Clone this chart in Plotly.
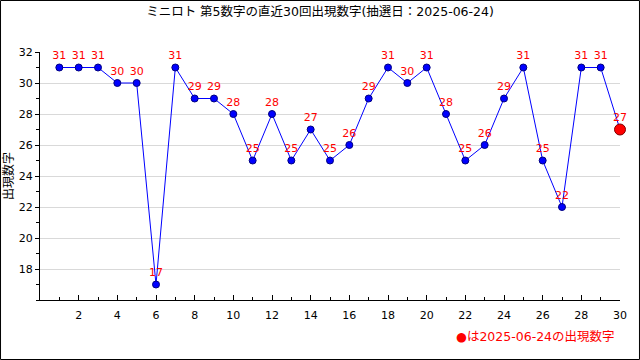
import plotly.graph_objects as go

draws = list(range(1, 31))
values = [31, 31, 31, 30, 30, 17, 31, 29, 29, 28, 25, 28, 25, 27, 25, 26, 29, 31, 30, 31,
          28, 25, 26, 29, 31, 25, 22, 31, 31, 27]
title_text = "ミニロト 第5数字の直近30回出現数字(抽選日：2025-06-24)"
ytitle = "出現数字"
note = "●は2025-06-24の出現数字"
x_ticks = list(range(2, 31, 2))
y_ticks = list(range(18, 33, 2))

font_family = "DejaVu Sans, Noto Sans CJK JP"

fig = go.Figure()
fig.add_trace(go.Scatter(
    x=draws, y=values, mode="lines+markers+text",
    line=dict(color="#0000ff", width=1),
    marker=dict(color="#0000ff", size=7, line=dict(color="#000080", width=1)),
    text=[str(v) for v in values], textposition="top center",
    textfont=dict(color="#ff0000", size=11, family=font_family),
    cliponaxis=False, showlegend=False, hoverinfo="skip"))
fig.add_trace(go.Scatter(
    x=draws[-1:], y=values[-1:], mode="markers",
    marker=dict(color="#ff0000", size=11, line=dict(color="#800000", width=1)),
    cliponaxis=False, showlegend=False, hoverinfo="skip"))

fig.update_layout(
    width=640, height=360,
    margin=dict(l=40, r=20, t=52, b=60, autoexpand=False),
    paper_bgcolor="white", plot_bgcolor="white",
    font=dict(family=font_family, size=11, color="#000"),
    title=dict(text=title_text, x=0.5, xanchor="center", y=0.98, yanchor="top",
               font=dict(size=12.5, family=font_family, color="#000")),
)
fig.update_xaxes(range=[0, 30], tickvals=x_ticks, ticks="inside", ticklen=5,
                 tickcolor="#000", showline=True, linecolor="#000", linewidth=1,
                 showgrid=False, zeroline=False, ticklabelstandoff=5, automargin=False,
                 minor=dict(dtick=1, tick0=0, ticks="inside", ticklen=3, tickcolor="#000", showgrid=False))
fig.update_yaxes(range=[16, 32], tickvals=y_ticks, ticks="outside", ticklen=4,
                 tickcolor="#000", showline=True, linecolor="#000", linewidth=1,
                 showgrid=True, gridcolor="#d9d9d9", zeroline=False, automargin=False,
                 minor=dict(dtick=1, tick0=0, ticks="outside", ticklen=3, tickcolor="#000", showgrid=False),
                 title=dict(text=ytitle, standoff=2, font=dict(size=12)))
fig.add_annotation(xref="paper", yref="paper", x=0.995, y=-0.148, xanchor="right", yanchor="middle",
                   text=note, showarrow=False, font=dict(color="#ff0000", size=12.5, family=font_family))
fig.add_shape(type="rect", xref="paper", yref="paper",
              x0=-40/580 + 0.0009, x1=1 + 20/580 - 0.0009, y0=-60/248 + 0.002, y1=1 + 52/248 - 0.002,
              line=dict(color="#000", width=1), fillcolor="rgba(0,0,0,0)", layer="above")
fig.write_html("out.html", config={"displayModeBar": False},
               post_script="document.body.style.margin='0';document.body.style.overflow='hidden';")
